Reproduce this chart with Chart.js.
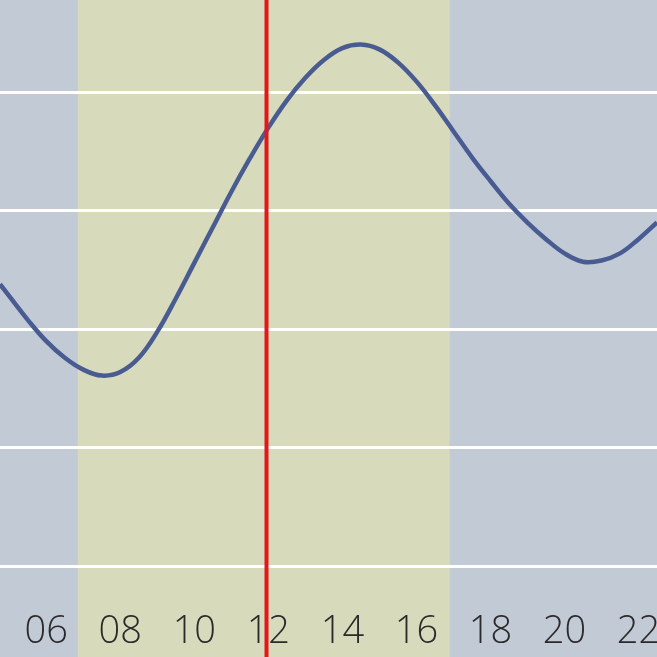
<!DOCTYPE html>
<html>
<head>
<meta charset="utf-8">
<script src="https://cdn.jsdelivr.net/npm/chart.js@4.4.1/dist/chart.umd.min.js"></script>
<style>
  html, body { margin: 0; padding: 0; background: #c2cad6; }
  #wrap { width: 657px; height: 657px; position: relative; }
</style>
</head>
<body>
<div id="wrap"><canvas id="tideChart"></canvas></div>
<script>
// time of day (hours) and tide level (cm)
const hours = [4.75, 5, 5.5, 6, 6.5, 7, 7.5, 8, 8.5, 9, 9.5, 10, 10.5, 11, 11.5, 12,
  12.5, 13, 13.5, 14, 14.5, 15, 15.5, 16, 16.5, 17, 17.5, 18, 18.5, 19, 19.5,
  20, 20.5, 21, 21.5, 22, 22.5];
const tide = [119, 114, 104, 95, 88, 83, 80.5, 82, 88, 99, 113, 128, 143, 158, 172, 185,
  196.5, 206, 213.5, 218.5, 220, 218, 212.5, 204.5, 194.5, 183.5, 172.5, 162.5, 153, 145, 138,
  132, 128.5, 129, 132, 138, 145];

const tickHours = [6, 8, 10, 12, 14, 16, 18, 20, 22];
const tickLabels = ['06', '08', '10', '12', '14', '16', '18', '20', '22'];
const levelTicks = [0, 50, 100, 150, 200];

const sunrise = 6.85;
const sunset = 16.9;
const nowHour = 11.95;

const backdrop = {
  id: 'backdrop',
  beforeDraw(chart) {
    const { ctx, width, height } = chart;
    const x = chart.scales.x;
    ctx.save();
    ctx.fillStyle = '#c2cad6';
    ctx.fillRect(0, 0, width, height);
    const x0 = x.getPixelForValue(sunrise);
    const x1 = x.getPixelForValue(sunset);
    ctx.fillStyle = '#d8dabc';
    ctx.fillRect(x0, 0, x1 - x0, height);
    ctx.restore();
  },
  afterDraw(chart) {
    const { ctx, height } = chart;
    const px = chart.scales.x.getPixelForValue(nowHour);
    ctx.save();
    ctx.strokeStyle = '#e3161b';
    ctx.lineWidth = 4;
    ctx.beginPath();
    ctx.moveTo(px, 0);
    ctx.lineTo(px, height);
    ctx.stroke();
    ctx.restore();
  }
};

new Chart(document.getElementById('tideChart'), {
  type: 'line',
  data: {
    datasets: [{
      data: hours.map((h, i) => ({ x: h, y: tide[i] })),
      borderColor: '#495c92',
      borderWidth: 4.5,
      pointRadius: 0,
      fill: false,
      tension: 0.4,
    }],
  },
  options: {
    responsive: true,
    maintainAspectRatio: false,
    animation: false,
    layout: { padding: 0 },
    plugins: { legend: { display: false }, tooltip: { enabled: false } },
    scales: {
      x: {
        type: 'linear',
        min: 4.75,
        max: 22.5,
        grid: { display: false, drawTicks: false },
        border: { display: false },
        afterBuildTicks: s => { s.ticks = tickHours.map(v => ({ value: v })); },
        afterFit: s => { s.paddingLeft = 0; s.paddingRight = 0; },
        ticks: {
          autoSkip: false,
          maxRotation: 0,
          padding: 0,
          color: '#2a2a2a',
          font: { family: '"Open Sans", "Liberation Sans", sans-serif', size: 38, weight: '300', lineHeight: 1.3 },
          callback: (v) => tickLabels[tickHours.indexOf(v)],
        },
      },
      y: {
        min: -17.3,
        max: 238.8,
        border: { display: false },
        afterBuildTicks: s => { s.ticks = levelTicks.map(v => ({ value: v })); },
        afterFit: s => { s.width = 0; },
        grid: { color: '#ffffff', lineWidth: 3, drawTicks: false },
        ticks: { display: false },
      },
    },
  },
  plugins: [backdrop],
});
</script>
</body>
</html>
